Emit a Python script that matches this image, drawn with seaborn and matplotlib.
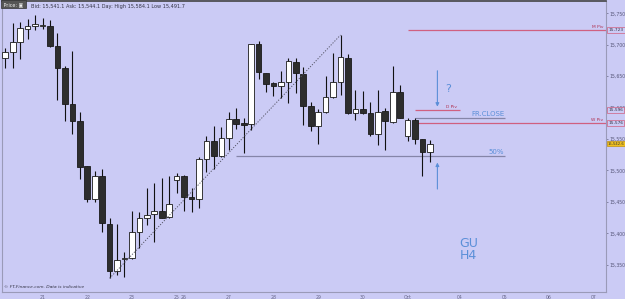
import numpy as np
import pandas as pd
import matplotlib
matplotlib.use("Agg")
import matplotlib.pyplot as plt
import seaborn as sns

# GBPUSD H4 candles (prices shown x10000 like the platform does)
opens = [15678.4, 15688.9, 15703.9, 15725.0, 15729.3, 15730.5, 15730.3, 15697.5, 15662.5, 15605.7,
         15579.1, 15507.1, 15454.6, 15491.6, 15414.8, 15340.5, 15358.6, 15360.2, 15402.5, 15423.8,
         15430.2, 15435.5, 15425.9, 15484.8, 15491.6, 15458.2, 15454.1, 15518.2, 15546.8, 15523.4,
         15551.1, 15581.8, 15575.0, 15573.4, 15700.7, 15655.0, 15639.1, 15633.9, 15640.2, 15673.0,
         15653.4, 15602.5, 15571.2, 15592.5, 15617.3, 15640.2, 15679.4, 15590.9, 15597.3, 15590.9,
         15558.0, 15594.6, 15577.5, 15624.3, 15554.8, 15580.2, 15550.0, 15528.9]
highs = [15694.3, 15734.1, 15735.7, 15740.5, 15747.3, 15742.0, 15739.3, 15718.2, 15666.6, 15690.0,
         15592.5, 15507.5, 15499.6, 15501.8, 15424.8, 15414.8, 15370.7, 15435.9, 15434.3, 15472.5,
         15480.5, 15487.5, 15491.6, 15495.4, 15492.5, 15471.6, 15521.8, 15554.8, 15571.2, 15568.6,
         15593.4, 15598.9, 15582.9, 15701.5, 15705.9, 15655.5, 15641.2, 15658.2, 15678.4, 15678.4,
         15665.0, 15608.4, 15597.7, 15650.3, 15687.3, 15715.5, 15684.8, 15627.9, 15626.4, 15609.4,
         15627.9, 15598.9, 15666.2, 15635.9, 15583.9, 15582.9, 15550.5, 15548.4]
lows = [15662.5, 15662.5, 15677.3, 15708.6, 15723.4, 15725.0, 15696.0, 15612.1, 15578.7, 15557.5,
        15486.4, 15450.3, 15449.3, 15402.5, 15328.4, 15333.6, 15330.9, 15359.0, 15376.1, 15413.2,
        15386.6, 15423.8, 15424.8, 15463.6, 15435.5, 15433.4, 15439.8, 15498.0, 15502.3, 15522.0,
        15532.5, 15565.9, 15527.3, 15564.3, 15645.5, 15624.3, 15618.9, 15614.8, 15606.8, 15622.7,
        15572.3, 15562.7, 15541.6, 15591.0, 15616.0, 15620.0, 15589.3, 15580.2, 15589.3, 15554.8,
        15540.5, 15532.5, 15575.0, 15582.9, 15546.8, 15541.6, 15491.6, 15513.9]
closes = [15688.9, 15704.8, 15726.1, 15729.8, 15732.5, 15731.5, 15697.5, 15662.5, 15605.7, 15579.1,
          15505.9, 15454.6, 15491.6, 15415.9, 15340.5, 15357.6, 15360.2, 15402.5, 15423.8, 15429.1,
          15435.5, 15424.8, 15446.1, 15491.1, 15458.2, 15454.1, 15518.2, 15546.8, 15523.4, 15551.1,
          15581.8, 15573.9, 15572.3, 15700.7, 15656.1, 15638.0, 15634.8, 15640.2, 15674.1, 15654.5,
          15603.0, 15571.2, 15592.5, 15617.3, 15640.2, 15680.0, 15590.9, 15597.3, 15590.9, 15558.0,
          15593.4, 15578.7, 15624.3, 15583.9, 15580.2, 15550.0, 15528.9, 15542.6]

day_labels = ["21", "22", "23", "25", "26", "27", "28", "29", "30", "Oct", "04", "05", "06", "07"]
day_pos = [5, 11, 17, 23, 24, 30, 36, 42, 48, 54, 61, 67, 73, 79]

price_ticks = [15350, 15400, 15450, 15500, 15550, 15600, 15650, 15700, 15750]

# levels
m_piv = 15723
d_piv = 15596
w_piv = 15576
fr_close = 15584
half_level = 15523
last_price = 15542.6
trend_x = [14, 45]
trend_y = [15328.4, 15715.5]

df = pd.DataFrame({"open": opens, "high": highs, "low": lows, "close": closes})
df["idx"] = np.arange(len(df))

bg = "#cbcbf5"
sns.set_style("white", {"axes.facecolor": bg, "figure.facecolor": bg})

fig = plt.figure(figsize=(6.25, 2.99), dpi=100)
ax = fig.add_axes([2 / 625, 7 / 299, 604 / 625, 291 / 299])
ax.set_facecolor(bg)

# wicks
ax.vlines(df["idx"], df["low"], df["high"], color="#111111", lw=0.8, zorder=2)
# bodies
up = df["close"] >= df["open"]
bottoms = np.minimum(df["open"], df["close"])
heights = np.maximum((df["close"] - df["open"]).abs(), 0.9)
ax.bar(df["idx"], heights, bottom=bottoms, width=0.76,
       color=np.where(up, "#ffffff", "#2d2d2d"), edgecolor="#1a1a1a",
       linewidth=0.6, zorder=3)

# dotted trend line
sns.lineplot(x=trend_x, y=trend_y, ax=ax, color="#555566", lw=0.7,
             linestyle=(0, (1.2, 1.6)), zorder=4)

# horizontal levels
pink = "#d06080"
x_right = 80.7
ax.hlines(m_piv, 54, x_right, color=pink, lw=0.9, zorder=1)
ax.hlines(w_piv, 55, x_right, color=pink, lw=0.9, zorder=1)
ax.hlines(d_piv, 55, 61, color=pink, lw=0.9, zorder=1)
ax.hlines(fr_close, 55, 67.1, color="#8585a8", lw=0.9, zorder=1)
ax.hlines(half_level, 31, 67.1, color="#8585a8", lw=0.9, zorder=1)

ax.text(80.3, m_piv + 1.5, "M Piv", color="#b03050", fontsize=3.2, ha="right", va="bottom")
ax.text(80.3, w_piv + 1.5, "W Piv", color="#b03050", fontsize=3.2, ha="right", va="bottom")
ax.text(60.6, d_piv + 1.5, "D Piv", color="#b03050", fontsize=3.2, ha="right", va="bottom")
blue = "#5b8fd8"
ax.text(67.0, fr_close + 1.5, "FR.CLOSE", color=blue, fontsize=5, ha="right", va="bottom")
ax.text(67.0, half_level + 1.5, "50%", color=blue, fontsize=5, ha="right", va="bottom")

# arrows and annotations
ax.annotate("", xy=(58, 15597), xytext=(58, 15663),
            arrowprops=dict(arrowstyle="-|>", color=blue, lw=0.8, mutation_scale=5))
ax.annotate("", xy=(58, 15517), xytext=(58, 15466),
            arrowprops=dict(arrowstyle="-|>", color=blue, lw=0.8, mutation_scale=5))
ax.text(59.0, 15629, "?", color=blue, fontsize=8, ha="left", va="center")
ax.text(61.0, 15374, "GU\nH4", color=blue, fontsize=9, ha="left", va="center",
        linespacing=0.95)

# axes limits / ticks
ax.set_xlim(-0.44, 80.63)
ax.set_ylim(15306.6, 15769.6)
ax.yaxis.tick_right()
ax.set_yticks(price_ticks)
ax.set_yticklabels([f"{v:,}" for v in price_ticks])
ax.set_xticks(day_pos)
ax.set_xticklabels(day_labels)
ax.tick_params(axis="both", labelsize=3.3, colors="#666688", length=1.5, width=0.5, pad=0.8)
ax.tick_params(axis="y", labelcolor="#555577")

for side in ["left", "right", "bottom"]:
    ax.spines[side].set_visible(True)
    ax.spines[side].set_color("#9a9ab8")
    ax.spines[side].set_linewidth(0.8)
ax.spines["top"].set_color("#444444")
ax.spines["top"].set_linewidth(1.2)

# price boxes on the right axis
ytr = ax.get_yaxis_transform()
for lvl in [m_piv, d_piv, w_piv]:
    ax.text(1.004, lvl, f"{lvl:,}", transform=ytr, fontsize=3.1, color="#333344",
            va="center", ha="left", clip_on=False, zorder=10,
            bbox=dict(boxstyle="square,pad=0.25", fc=bg, ec=pink, lw=0.5))
ax.text(1.002, last_price, f"{last_price:,.1f}", transform=ytr, fontsize=2.7, color="#333333",
        va="center", ha="left", clip_on=False, zorder=10,
        bbox=dict(boxstyle="square,pad=0.15", fc="#f0c020", ec="#c09010", lw=0.5))

# header and footer
ax.text(0.0, 0.997, " Price: \u25a3 ", transform=ax.transAxes, fontsize=3.5, color="#eeeeee",
        va="top", ha="left", bbox=dict(boxstyle="square,pad=0.3", fc="#555555", ec="#333333", lw=0.5))
ax.text(0.048, 0.99, "Bid: 15,541.1 Ask: 15,544.1 Day: High 15,584.1 Low 15,491.7",
        transform=ax.transAxes, fontsize=3.6, color="#333344", va="top", ha="left")
ax.text(0.003, 0.012, "\u00a9 FT-Finance.com. Data is indicative", transform=ax.transAxes,
        fontsize=3.2, style="italic", color="#333344", va="bottom", ha="left")

fig.savefig("out.png", dpi=100, facecolor=bg)
